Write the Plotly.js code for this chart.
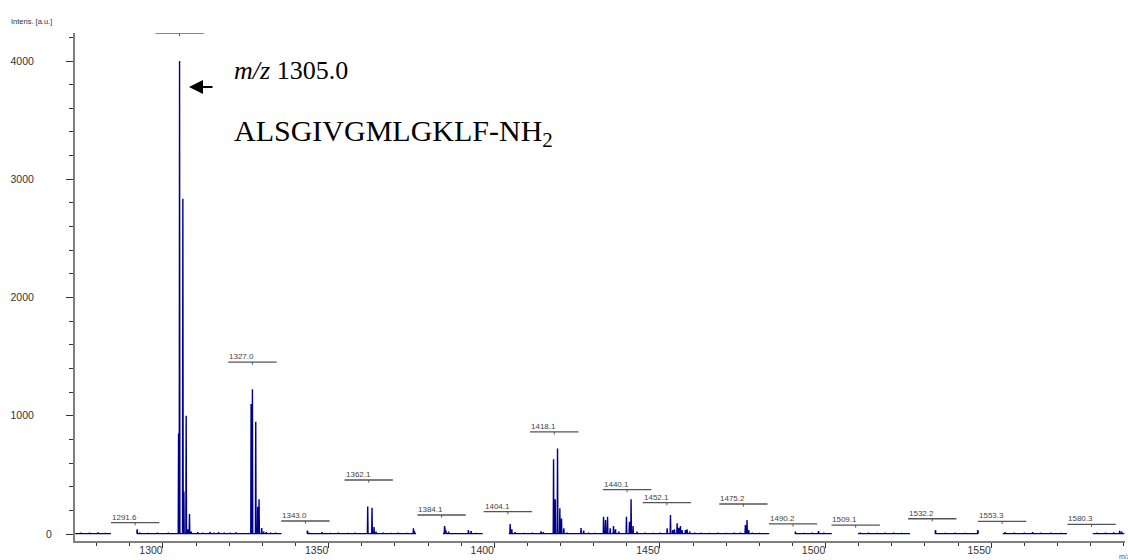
<!DOCTYPE html>
<html>
<head>
<meta charset="utf-8">
<script src="https://cdn.plot.ly/plotly-3.0.1.min.js"></script>
<style>html,body{margin:0;padding:0;background:#fff;}#chart{width:1128px;height:560px;}</style>
</head>
<body>
<div id="chart"></div>
<script>
// ---- Data ----
// Peak positions (m/z) and intensities (a.u.)
const peakMz = [
  1275.2, 1277.8, 1280.4, 1282.6,
  1292.2, 1293.0, 1295.5, 1298.3, 1301.6,
  1304.7, 1305.0, 1306.0, 1306.3, 1307.0, 1307.5, 1308.0, 1308.5,
  1310.5, 1312.0, 1314.2, 1315.4, 1316.8, 1318.5, 1320.3, 1322.0,
  1326.6, 1327.0, 1328.0, 1328.6, 1329.0, 1329.8, 1330.4, 1331.2, 1332.5, 1334.0,
  1343.6, 1344.0, 1348.0, 1350.5, 1353.0, 1355.8, 1358.0,
  1361.8, 1363.1, 1363.7, 1364.3, 1366.5, 1368.9, 1371.0, 1373.5, 1375.6, 1375.9,
  1385.0, 1385.4, 1386.2, 1392.2, 1393.0, 1394.5,
  1404.8, 1405.3, 1406.3, 1409.0, 1411.5, 1414.1, 1414.8,
  1417.9, 1418.4, 1419.1, 1419.8, 1420.3, 1421.0, 1422.0, 1426.2, 1427.0, 1428.5, 1430.5,
  1433.0, 1433.6, 1434.2, 1435.0, 1436.0, 1436.6, 1437.6,
  1439.9, 1440.8, 1441.3, 1441.9, 1443.1, 1445.5, 1448.0, 1450.0,
  1452.2, 1453.2, 1453.9, 1454.4, 1455.2, 1455.7, 1456.2, 1456.7, 1457.7, 1458.2, 1459.0,
  1460.5, 1462.5, 1465.0, 1467.5, 1470.0, 1472.5,
  1474.3, 1475.8, 1476.3, 1476.8, 1477.9, 1480.0,
  1490.9, 1493.5, 1496.0, 1497.9, 1499.5,
  1510.5, 1513.0, 1515.5, 1518.0, 1520.5, 1523.0,
  1533.2, 1536.0, 1539.0, 1542.0, 1546.0,
  1554.2, 1557.0, 1560.0, 1562.5, 1565.0, 1568.0, 1571.0,
  1582.0, 1584.5, 1587.0, 1588.8, 1589.4
];
const peakIntensity = [
  12, 10, 14, 9,
  40, 12, 8, 10, 12,
  850, 4000, 2835, 360, 1000, 40, 170, 20,
  15, 10, 18, 12, 15, 10, 12, 14,
  1100, 1224, 950, 230, 295, 50, 20, 15, 10, 12,
  30, 12, 15, 8, 10, 8, 10,
  232, 222, 60, 20, 10, 8, 10, 8, 48, 25,
  67, 30, 20, 34, 25, 8,
  84, 40, 15, 8, 10, 22, 15,
  633, 293, 723, 217, 132, 48, 12, 50, 30, 10, 8,
  146, 118, 146, 48, 68, 40, 20,
  146, 104, 295, 68, 20, 10, 8, 12,
  48, 160, 34, 40, 90, 53, 68, 34, 34, 40, 20,
  12, 10, 8, 10, 8, 10,
  12, 76, 118, 34, 12, 8,
  20, 8, 10, 25, 10,
  12, 10, 8, 12, 10, 8,
  34, 8, 10, 8, 34,
  15, 10, 12, 15, 10, 12, 8,
  12, 10, 14, 28, 20
];
// Drawn stretches of the spectrum (the trace has gaps between them)
const segmentStart = [1273.5, 1292.1, 1343.5, 1384.5, 1404.4, 1490.8, 1509.8, 1533.0, 1553.5, 1580.7];
const segmentEnd   = [1284.3, 1335.8, 1376.4, 1396.5, 1483.0, 1501.9, 1525.5, 1546.1, 1572.9, 1590.2];
const baselineLevel = 3;

// Peak labels
const labelMz     = [1291.6, 1305.0, 1327.0, 1343.0, 1362.1, 1384.1, 1404.1, 1418.1, 1440.1, 1452.1, 1475.2, 1490.2, 1509.1, 1532.2, 1553.3, 1580.3];
const labelText   = ["1291.6", "", "1327.0", "1343.0", "1362.1", "1384.1", "1404.1", "1418.1", "1440.1", "1452.1", "1475.2", "1490.2", "1509.1", "1532.2", "1553.3", "1580.3"];
const labelHeight = [96, 4234, 1454, 110, 457, 161, 189, 863, 376, 265, 254, 85, 76, 129, 107, 82];

// Axis ticks
const xTickVals = [1300, 1350, 1400, 1450, 1500, 1550];
const yTickVals = [0, 1000, 2000, 3000, 4000];
const yTickText = ['', '1000', '2000', '3000', '4000'];

// ---- Build the line trace ----
const xs = [], ys = [];
const halfW = 0.1;
for (let s = 0; s < segmentStart.length; s++) {
  const a = segmentStart[s], b = segmentEnd[s];
  xs.push(a); ys.push(baselineLevel);
  const idx = [];
  for (let i = 0; i < peakMz.length; i++) if (peakMz[i] >= a && peakMz[i] <= b) idx.push(i);
  idx.sort((p, q) => peakMz[p] - peakMz[q]);
  for (const i of idx) {
    xs.push(peakMz[i] - halfW); ys.push(baselineLevel);
    xs.push(peakMz[i]); ys.push(peakIntensity[i]);
    xs.push(peakMz[i] + halfW); ys.push(baselineLevel);
  }
  xs.push(b); ys.push(baselineLevel);
  xs.push(null); ys.push(null);
}

const trace = {
  x: xs, y: ys, type: 'scatter', mode: 'lines',
  line: {color: '#00008b', width: 1.4},
  connectgaps: false, hoverinfo: 'skip', showlegend: false
};

// ---- Label bars + texts ----
const shapes = [];
const annotations = [];
const barHalf = 7.3;
for (let i = 0; i < labelMz.length; i++) {
  const top = labelHeight[i] > 4200;
  shapes.push({type: 'line', xref: 'x', yref: 'y', x0: labelMz[i] - barHalf, x1: labelMz[i] + barHalf,
               y0: labelHeight[i], y1: labelHeight[i], line: {color: top ? '#888' : '#555', width: 1.3}});
  shapes.push({type: 'line', xref: 'x', yref: 'y', x0: labelMz[i], x1: labelMz[i],
               y0: labelHeight[i], y1: labelHeight[i] - 22, line: {color: '#555', width: 1}});
  if (labelText[i]) {
    annotations.push({xref: 'x', yref: 'y', x: labelMz[i] - barHalf, y: labelHeight[i],
      xanchor: 'left', yanchor: 'bottom', showarrow: false, text: labelText[i],
      font: {family: 'Liberation Sans, Arial, sans-serif', size: 8, color: '#444'}, borderpad: 0, yshift: 0});
  }
}

const W = 1128, H = 560, L = 75, R = 3, T = 33, B = 19;
const pw = W - L - R, ph = H - T - B;
const px = v => (v - L) / pw;
const py = v => (H - B - v) / ph;

annotations.push({xref: 'paper', yref: 'paper', x: px(9), y: py(21), xanchor: 'left', yanchor: 'middle',
  showarrow: false, text: 'Intens. [a.u.]', font: {family: 'Liberation Sans, Arial, sans-serif', size: 7.5, color: '#333'}});
annotations.push({xref: 'paper', yref: 'y', x: px(44), y: 0, xanchor: 'left', yanchor: 'middle',
  showarrow: false, text: '0', font: {family: 'Liberation Sans, Arial, sans-serif', size: 10.5, color: '#333'}});
annotations.push({xref: 'paper', yref: 'paper', x: px(1117), y: py(556), xanchor: 'left', yanchor: 'middle',
  showarrow: false, text: 'm/z', font: {family: 'Liberation Sans, Arial, sans-serif', size: 7, color: '#555'}});
annotations.push({xref: 'paper', yref: 'paper', x: px(232), y: py(70), xanchor: 'left', yanchor: 'middle',
  showarrow: false, text: '<i>m/z</i> 1305.0', font: {family: 'Liberation Serif, Times New Roman, serif', size: 26, color: '#000'}});
annotations.push({xref: 'paper', yref: 'paper', x: px(232), y: py(133), xanchor: 'left', yanchor: 'middle',
  showarrow: false, text: 'ALSGIVGMLGKLF-NH<sub>2</sub>', font: {family: 'Liberation Serif, Times New Roman, serif', size: 30, color: '#000'}});
annotations.push({xref: 'paper', yref: 'paper', x: px(189), y: py(87), ax: 25, ay: 0, text: '',
  showarrow: true, arrowhead: 2, arrowsize: 1.4, arrowwidth: 2, arrowcolor: '#000', standoff: 0});

const layout = {
  width: W, height: H,
  margin: {l: L, r: R, t: T, b: B, pad: 0},
  paper_bgcolor: '#fff', plot_bgcolor: '#fff',
  showlegend: false,
  xaxis: {
    range: [1273.44, 1590.4], tickmode: 'array', tickvals: xTickVals,
    showline: true, linecolor: '#808080', linewidth: 2, mirror: false,
    ticks: 'outside', ticklen: 5, tickwidth: 1, tickcolor: '#333',
    minor: {ticks: 'outside', ticklen: 3, tickwidth: 1, tickcolor: '#333', dtick: 10, tick0: 1300, showgrid: false},
    tickfont: {family: 'Liberation Sans, Arial, sans-serif', size: 10.5, color: '#333'},
    ticklabelshift: -12, ticklabelstandoff: -7,
    showgrid: false, zeroline: false, fixedrange: true
  },
  yaxis: {
    range: [-59, 4237], tickmode: 'array', tickvals: yTickVals, ticktext: yTickText,
    showline: true, linecolor: '#808080', linewidth: 2,
    ticks: 'outside', ticklen: 7, tickwidth: 1, tickcolor: '#333',
    minor: {ticks: 'outside', ticklen: 4, tickwidth: 1, tickcolor: '#333', dtick: 200, tick0: 0, showgrid: false},
    tickfont: {family: 'Liberation Sans, Arial, sans-serif', size: 10.5, color: '#333'},
    ticklabelstandoff: 30,
    showgrid: false, zeroline: false, fixedrange: true
  },
  shapes: shapes,
  annotations: annotations
};

Plotly.newPlot('chart', [trace], layout, {displayModeBar: false, staticPlot: true});
</script>
</body>
</html>
